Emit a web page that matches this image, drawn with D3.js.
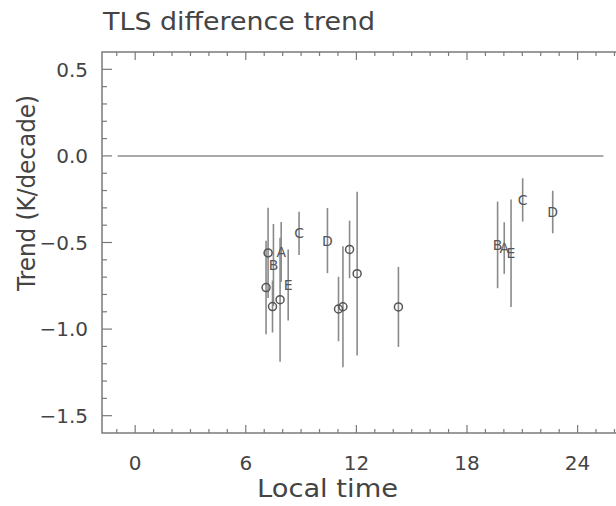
<!DOCTYPE html>
<html>
<head>
<meta charset="utf-8">
<script src="https://cdn.jsdelivr.net/npm/d3@7"></script>
<style>
  body { margin: 0; background: #fff; }
  text { font-family: "DejaVu Sans", sans-serif; fill: #444; }
</style>
</head>
<body>
<div class="chart"></div>
<script>
// station points: local time (h), trend (K/decade), error half-width, symbol
var times   = [7.21, 7.10, 7.50, 7.45, 7.92, 7.86, 8.30, 8.89, 10.43, 11.63, 12.04, 11.03, 11.27, 14.28, 19.66, 20.02, 20.39, 21.02, 22.65];
var trends  = [-0.56, -0.76, -0.63, -0.87, -0.555, -0.83, -0.745, -0.447, -0.489, -0.54, -0.68, -0.884, -0.871, -0.872, -0.514, -0.532, -0.562, -0.254, -0.324];
var errors  = [0.26, 0.27, 0.237, 0.15, 0.173, 0.358, 0.205, 0.125, 0.188, 0.166, 0.473, 0.186, 0.349, 0.231, 0.25, 0.149, 0.311, 0.125, 0.123];
var symbols = ["o", "o", "B", "o", "A", "o", "E", "C", "D", "o", "o", "o", "o", "o", "B", "A", "E", "C", "D"];

var xTicks = [0, 6, 12, 18, 24];
var yTicks = [0.5, 0.0, -0.5, -1.0, -1.5];
var zeroLine = [-0.95, 25.4];

var margin = { top: 52, right: 0, bottom: 73, left: 102 },
    width = 616 - margin.left - margin.right + 4,
    height = 506 - margin.top - margin.bottom;

var svg = d3.select('.chart')
    .append('svg')
    .attr("width", 616)
    .attr("height", 506);

var g = svg.append("g")
    .attr("transform", "translate(" + margin.left + "," + margin.top + ")");

var x = d3.scaleLinear().domain([-1.8, 26.3]).range([0, width]);
var y = d3.scaleLinear().domain([-1.6, 0.6]).range([height, 0]);

var axisColor = "#7a7a7a";

// frame
g.append("rect")
    .attr("width", width)
    .attr("height", height)
    .attr("fill", "none")
    .attr("stroke", axisColor)
    .attr("stroke-width", 1.5);

// ticks, pointing inward
var hourTicks = d3.range(-1, 27);
var yMinor = d3.range(-15, 6).map(function(d) { return d / 10; });

function isMajorX(d) { return xTicks.indexOf(d) >= 0; }
function isMajorY(d) { return yTicks.some(function(t) { return Math.abs(t - d) < 1e-6; }); }

g.append("g").selectAll("line")
    .data(hourTicks).enter().append("line")
    .attr("x1", function(d) { return x(d); })
    .attr("x2", function(d) { return x(d); })
    .attr("y1", height)
    .attr("y2", function(d) { return height - (isMajorX(d) ? 8 : 4); })
    .attr("stroke", axisColor).attr("stroke-width", 1.2);

g.append("g").selectAll("line")
    .data(hourTicks).enter().append("line")
    .attr("x1", function(d) { return x(d); })
    .attr("x2", function(d) { return x(d); })
    .attr("y1", 0)
    .attr("y2", function(d) { return isMajorX(d) ? 8 : 4; })
    .attr("stroke", axisColor).attr("stroke-width", 1.2);

g.append("g").selectAll("line")
    .data(yMinor).enter().append("line")
    .attr("x1", 0)
    .attr("x2", function(d) { return isMajorY(d) ? 10 : 5; })
    .attr("y1", function(d) { return y(d); })
    .attr("y2", function(d) { return y(d); })
    .attr("stroke", axisColor).attr("stroke-width", 1.2);

// tick labels
g.append("g").selectAll("text")
    .data(xTicks).enter().append("text")
    .attr("x", function(d) { return x(d); })
    .attr("y", height + 37)
    .attr("text-anchor", "middle")
    .style("font-size", "20px")
    .text(function(d) { return d; });

g.append("g").selectAll("text")
    .data(yTicks).enter().append("text")
    .attr("x", -14)
    .attr("y", function(d) { return y(d); })
    .attr("dy", "0.36em")
    .attr("text-anchor", "end")
    .style("font-size", "20px")
    .text(function(d) { return d3.format(".1f")(d).replace("-", "\u2212"); });

// zero reference line
g.append("line")
    .attr("x1", x(zeroLine[0]))
    .attr("x2", x(zeroLine[1]))
    .attr("y1", y(0))
    .attr("y2", y(0))
    .attr("stroke", "#8c8c8c")
    .attr("stroke-width", 1.5);

var data = times.map(function(t, i) {
    return { time: t, trend: trends[i], err: errors[i], sym: symbols[i] };
});

// error bars
g.append("g").selectAll("line")
    .data(data).enter().append("line")
    .attr("x1", function(d) { return x(d.time); })
    .attr("x2", function(d) { return x(d.time); })
    .attr("y1", function(d) { return y(d.trend + d.err); })
    .attr("y2", function(d) { return y(d.trend - d.err); })
    .attr("stroke", "#8a8a8a")
    .attr("stroke-width", 1.6);

// circles
g.append("g").selectAll("circle")
    .data(data.filter(function(d) { return d.sym === "o"; }))
    .enter().append("circle")
    .attr("cx", function(d) { return x(d.time); })
    .attr("cy", function(d) { return y(d.trend); })
    .attr("r", 4)
    .attr("fill", "none")
    .attr("stroke", "#555")
    .attr("stroke-width", 1.5);

// letter symbols
g.append("g").selectAll("text")
    .data(data.filter(function(d) { return d.sym !== "o"; }))
    .enter().append("text")
    .attr("x", function(d) { return x(d.time); })
    .attr("y", function(d) { return y(d.trend); })
    .attr("dy", "0.36em")
    .attr("text-anchor", "middle")
    .style("font-size", "14px")
    .style("fill", "#555")
    .text(function(d) { return d.sym; });

// title and axis labels
svg.append("text")
    .attr("x", 103)
    .attr("y", 30)
    .attr("textLength", 272)
    .attr("lengthAdjust", "spacingAndGlyphs")
    .style("font-size", "25px")
    .text("TLS difference trend");

svg.append("text")
    .attr("x", 257)
    .attr("y", 497)
    .attr("textLength", 141)
    .attr("lengthAdjust", "spacingAndGlyphs")
    .style("font-size", "24px")
    .text("Local time");

svg.append("text")
    .attr("transform", "translate(35,291) rotate(-90)")
    .attr("textLength", 196)
    .attr("lengthAdjust", "spacingAndGlyphs")
    .style("font-size", "24px")
    .text("Trend (K/decade)");
</script>
</body>
</html>
